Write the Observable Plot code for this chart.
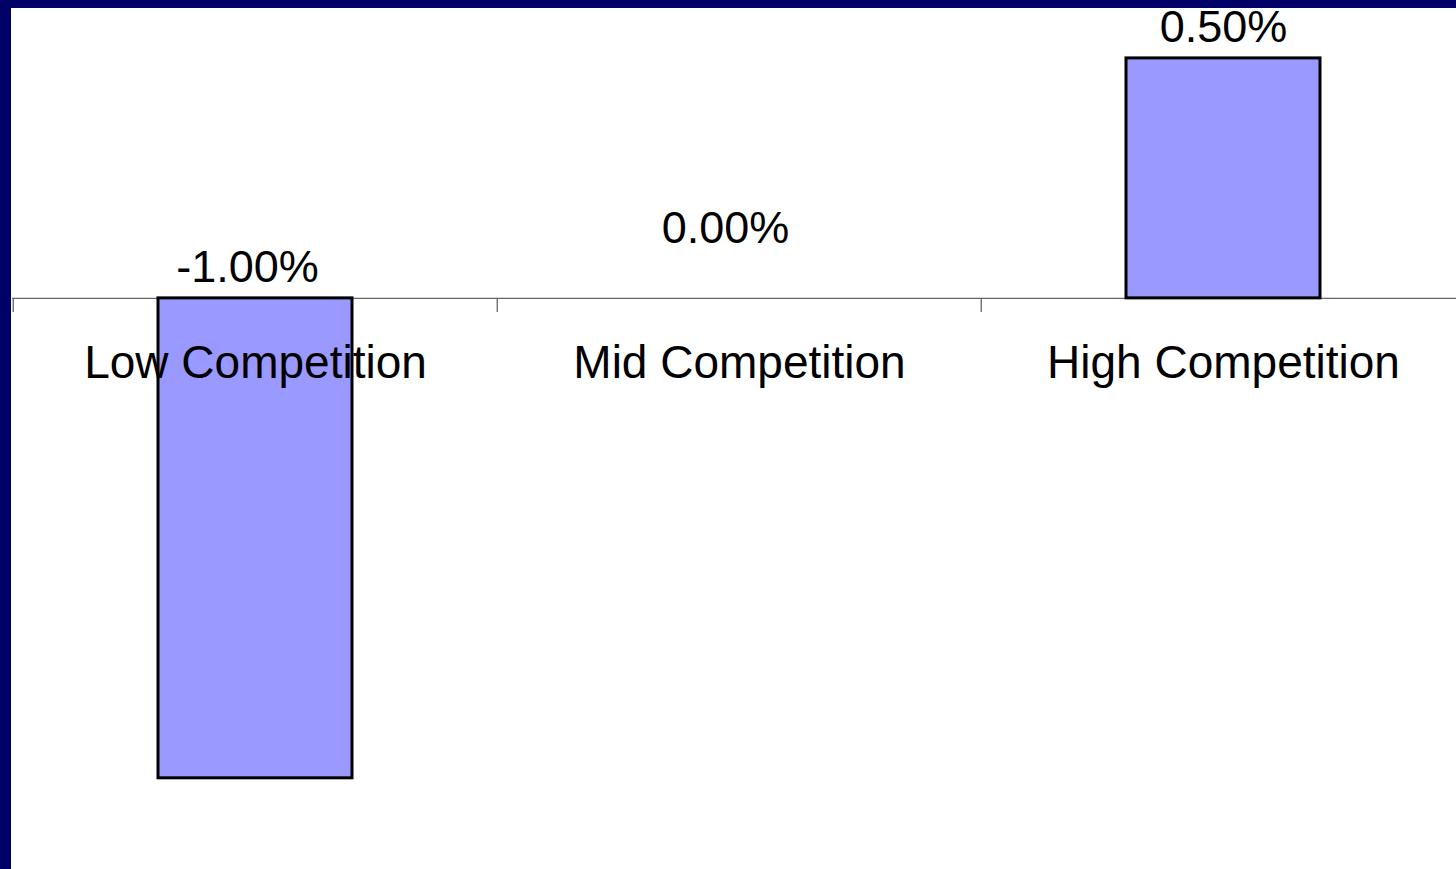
<!DOCTYPE html>
<html>
<head>
<meta charset="utf-8">
<script src="https://cdn.jsdelivr.net/npm/d3@7"></script>
<script src="https://cdn.jsdelivr.net/npm/@observablehq/plot@0.6"></script>
<style>
  html, body { margin: 0; padding: 0; background: #000066; overflow: hidden; }
  #frame { position: absolute; left: 11px; top: 8px; width: 1445px; height: 861px; background: #ffffff; }
  svg { display: block; }
</style>
</head>
<body>
<div id="frame"></div>
<script>
// Data
const categories = ["Low Competition", "Mid Competition", "High Competition"];
const values = [-1.00, 0.00, 0.50]; // percent

const data = categories.map((c, i) => ({cat: c, value: values[i]}));

const W = 1445, H = 861;
const yDomain = [-1.19, 0.604];
const xRange = [1, 1454.5];
const step = (xRange[1] - xRange[0]) / categories.length;
const unitsPerPx = (yDomain[1] - yDomain[0]) / H;
const font = "'Liberation Sans', Arial, Helvetica, sans-serif";
const fmt = d => d.value.toFixed(2) + "%";

const chart = Plot.plot({
  width: W,
  height: H,
  marginTop: 0, marginBottom: 0, marginLeft: 1, marginRight: 0,
  style: {background: "transparent", fontFamily: font, overflow: "visible"},
  x: {domain: categories, range: xRange, paddingInner: 0.6, paddingOuter: 0.3, axis: null},
  y: {domain: yDomain, axis: null},
  marks: [
    Plot.ruleY([0], {stroke: "#666666", strokeWidth: 1.3}),
    Plot.ruleX(categories, {x: d => d, y1: 0, y2: -14 * unitsPerPx, dx: -step / 2, stroke: "#666666", strokeWidth: 1.3}),
    Plot.barY(data, {x: "cat", y: "value", fill: "#9999ff", stroke: "#000000", strokeWidth: 3}),
    Plot.text(data.filter(d => d.value > 0), {
      x: "cat", y: "value", text: fmt,
      dy: -16, lineAnchor: "bottom", fontSize: 45, fill: "#000000"
    }),
    Plot.text(data.filter(d => d.value < 0), {
      x: "cat", y: () => 0, text: fmt,
      dy: -16, dx: -8, lineAnchor: "bottom", fontSize: 45, fill: "#000000"
    }),
    Plot.text(data.filter(d => d.value === 0), {
      x: "cat", y: "value", text: fmt,
      dy: -55, dx: -14, lineAnchor: "bottom", fontSize: 45, fill: "#000000"
    }),
    Plot.text(categories, {
      x: d => d, y: () => 0, text: d => d,
      dy: 80, lineAnchor: "bottom", fontSize: 46, fill: "#000000"
    })
  ]
});

document.getElementById("frame").appendChild(chart);
</script>
</body>
</html>
